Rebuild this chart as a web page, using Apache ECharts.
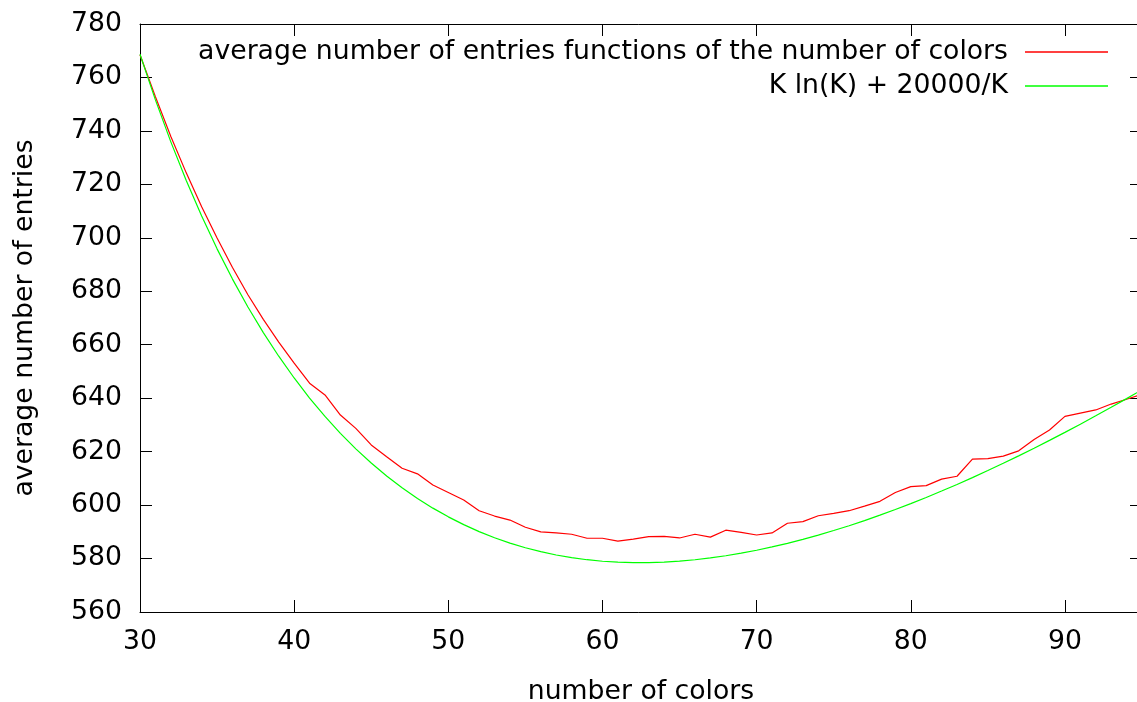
<!DOCTYPE html>
<html>
<head>
<meta charset="utf-8">
<script src="https://cdn.jsdelivr.net/npm/echarts@6/dist/echarts.min.js"></script>
<style>html,body{margin:0;padding:0;background:#fff}#c{width:1137px;height:702px}</style>
</head>
<body>
<div id="c"></div>
<script>
// number of colors K
const colors = [30,31,32,33,34,35,36,37,38,39,40,41,42,43,44,45,46,47,48,49,50,51,52,53,54,55,56,57,58,59,60,61,62,63,64,65,66,67,68,69,70,71,72,73,74,75,76,77,78,79,80,81,82,83,84,85,86,87,88,89,90,91,92,93,94,95];
// measured average number of entries (red)
const measured = [768.5,752.8,737.9,724.3,711.6,699.9,688.9,678.7,669.5,661.0,653.1,645.6,641.2,633.7,628.7,622.5,618.1,613.8,611.7,607.5,604.7,601.9,597.9,595.9,594.4,591.7,590.0,589.6,589.1,587.6,587.6,586.5,587.3,588.2,588.3,587.7,589.1,588.0,590.6,589.8,588.8,589.6,593.2,593.8,596.0,596.9,597.9,599.6,601.4,604.7,606.9,607.3,609.7,610.8,617.2,617.4,618.3,620.3,624.5,628.1,633.2,634.4,635.6,637.8,639.6,641.5];
// K ln(K) + 20000/K curve (green), read at each K
const model = [768.70,751.61,735.90,721.45,708.13,695.87,684.56,674.14,664.54,655.70,647.56,640.06,633.17,626.85,621.05,615.74,610.90,606.49,602.48,598.86,595.60,592.68,590.08,587.78,585.78,584.04,582.56,581.33,580.33,579.56,578.99,578.63,578.46,578.48,578.67,579.03,579.55,580.22,581.04,582.01,583.11,584.34,585.70,587.18,588.77,590.48,592.29,594.21,596.23,598.35,600.56,602.86,605.25,607.73,610.28,612.92,615.63,618.42,621.28,624.21,627.21,630.27,633.40,636.59,639.84,643.15];
const seriesNames = ['average number of entries functions of the number of colors', 'K ln(K) + 20000/K'];
const xTitle = 'number of colors';
const yTitle = 'average number of entries';

const FONT = 'DejaVu Sans';
const FS = 26.7;
const chart = echarts.init(document.getElementById('c'), null, {renderer: 'canvas'});

const axisCommon = {
  axisLine: {show: true, onZero: false, lineStyle: {color: '#000', width: 1}},
  axisTick: {show: true, inside: true, length: 12, lineStyle: {color: '#000', width: 1}},
  splitLine: {show: false}
};

chart.setOption({
  animation: false,
  backgroundColor: '#fff',
  grid: {left: 140, right: -5, top: 24, bottom: 90, containLabel: false, outerBoundsMode: 'none'},
  legend: {
    orient: 'vertical',
    right: 24,
    top: 32,
    align: 'right',
    icon: 'rect',
    itemWidth: 83,
    itemHeight: 1.5,
    itemGap: 4,
    data: seriesNames,
    textStyle: {fontFamily: FONT, fontSize: FS, color: '#000', lineHeight: 30, padding: [0, 12, 0, 0]}
  },
  xAxis: [
    Object.assign({
      type: 'value', min: 30, max: 95, interval: 10, position: 'bottom',
      name: xTitle, nameLocation: 'middle', nameGap: 67,
      nameTextStyle: {fontFamily: FONT, fontSize: FS, color: '#000'},
      axisLabel: {fontFamily: FONT, fontSize: FS, color: '#000', margin: 17, showMaxLabel: false}
    }, axisCommon),
    Object.assign({
      type: 'value', min: 30, max: 95, interval: 10, position: 'top',
      axisLabel: {show: false}
    }, axisCommon)
  ],
  yAxis: [
    Object.assign({
      type: 'value', min: 560, max: 780, interval: 20, position: 'left',
      name: yTitle, nameLocation: 'middle', nameGap: 101,
      nameTextStyle: {fontFamily: FONT, fontSize: FS, color: '#000'},
      axisLabel: {fontFamily: FONT, fontSize: FS, color: '#000', margin: 18}
    }, axisCommon),
    Object.assign({
      type: 'value', min: 560, max: 780, interval: 20, position: 'right',
      axisLabel: {show: false}
    }, axisCommon)
  ],
  series: [
    {
      name: seriesNames[0], type: 'line', xAxisIndex: 0, yAxisIndex: 0,
      data: colors.map((k, i) => [k, measured[i]]),
      symbol: 'none', lineStyle: {color: '#ff0000', width: 1.2}, itemStyle: {color: '#ff0000'}
    },
    {
      name: seriesNames[1], type: 'line', xAxisIndex: 0, yAxisIndex: 0,
      data: colors.map((k, i) => [k, model[i]]),
      symbol: 'none', lineStyle: {color: '#00ff00', width: 1.2}, itemStyle: {color: '#00ff00'}
    }
  ]
});
</script>
</body>
</html>
